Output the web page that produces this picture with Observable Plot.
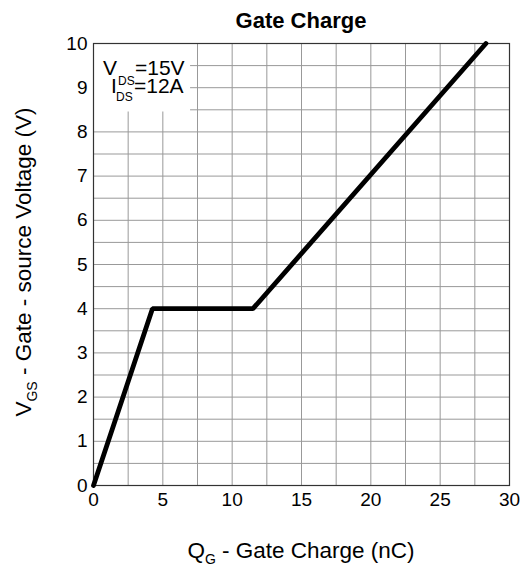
<!DOCTYPE html>
<html><head><meta charset="utf-8">
<script src="https://cdn.jsdelivr.net/npm/d3@7"></script>
<script src="https://cdn.jsdelivr.net/npm/@observablehq/plot@0.6"></script>
<style>
body{margin:0;background:#fff;}
svg{font-family:"Liberation Sans",Arial,sans-serif;}
</style></head>
<body><div id="chart"></div>
<script>
const qg = [0, 4.25, 11.5, 28.3];
const vgs = [0, 4, 4, 10];
const xTicks = [0, 5, 10, 15, 20, 25, 30];
const yTicks = [0, 1, 2, 3, 4, 5, 6, 7, 8, 9, 10];
const xGrid = d3.range(0, 30.01, 2.5);
const yGrid = d3.range(0, 10.01, 0.5);
const title = "Gate Charge";
const xLabel = ["Q", "G", " - Gate Charge (nC)"];
const yLabel = ["V", "GS", " - Gate - source Voltage (V)"];
const noteLines = [["V", "DS", "=15V"], ["I", "DS", "=12A"]];
const boxX = [0, 7];
const boxY = [8.45, 10];

const data = qg.map((q, i) => ({q, v: vgs[i]}));

const plot = Plot.plot({
  width: 523, height: 567,
  marginLeft: 93, marginRight: 14, marginTop: 43, marginBottom: 82,
  style: {fontFamily: '"Liberation Sans", Arial, sans-serif', fontSize: "19px", color: "#000"},
  x: {domain: [0, 30]},
  y: {domain: [0, 10]},
  marks: [
    Plot.gridX(xGrid, {stroke: "#999", strokeOpacity: 1, strokeWidth: 1}),
    Plot.gridY(yGrid, {stroke: "#999", strokeOpacity: 1, strokeWidth: 1}),
    Plot.rect([{x1: boxX[0], x2: boxX[1], y1: boxY[0], y2: boxY[1]}], {x1: "x1", x2: "x2", y1: "y1", y2: "y2", fill: "white", inset: 0}),
    Plot.frame({stroke: "#333", strokeWidth: 1.2}),
    Plot.axisX(xTicks, {tickSize: 0, tickPadding: 7, fontSize: 19, label: null}),
    Plot.axisY(yTicks, {tickSize: 0, tickPadding: 6, fontSize: 19, label: null}),
    Plot.line(data, {x: "q", y: "v", stroke: "black", strokeWidth: 4.8, strokeLinejoin: "miter"})
  ]
});
document.getElementById("chart").appendChild(plot);

const svg = d3.select(plot);
const sx = plot.scale("x"), sy = plot.scale("y");
const cx = (sx.apply(0) + sx.apply(30)) / 2;

svg.append("text").attr("x", cx).attr("y", 28).attr("text-anchor", "middle")
  .attr("font-size", 22).attr("font-weight", "bold").attr("fill", "#000").text(title);

const xl = svg.append("text").attr("x", cx).attr("y", 558).attr("text-anchor", "middle")
  .attr("font-size", 22.5).attr("fill", "#000");
xl.append("tspan").text(xLabel[0]);
xl.append("tspan").attr("font-size", 14).attr("dy", 6).text(xLabel[1]);
xl.append("tspan").attr("dy", -6).text(xLabel[2]);

const yl = svg.append("text").attr("transform", `translate(31,262) rotate(-90)`)
  .attr("text-anchor", "middle").attr("font-size", 22.5).attr("fill", "#000");
yl.append("tspan").text(yLabel[0]);
yl.append("tspan").attr("font-size", 14).attr("dy", 6).text(yLabel[1]);
yl.append("tspan").attr("dy", -6).text(yLabel[2]);

const x0 = sx.apply(0), y0 = sy.apply(10);
const pos = [
  {main: [x0 + 10, y0 + 32], sub: [x0 + 25, y0 + 42], rest: [x0 + 42, y0 + 32]},
  {main: [x0 + 18, y0 + 50], sub: [x0 + 23, y0 + 58], rest: [x0 + 41, y0 + 50]}
];
noteLines.forEach((ln, i) => {
  const p = pos[i];
  const g = svg.append("g").attr("fill", "#000").attr("text-anchor", "start");
  g.append("text").attr("x", p.main[0]).attr("y", p.main[1]).attr("font-size", 21).text(ln[0]);
  g.append("text").attr("x", p.sub[0]).attr("y", p.sub[1]).attr("font-size", 12).text(ln[1]);
  g.append("text").attr("x", p.rest[0]).attr("y", p.rest[1]).attr("font-size", 21).text(ln[2]);
});
</script></body></html>
